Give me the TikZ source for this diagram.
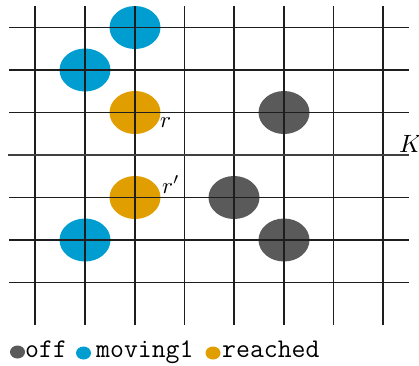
\documentclass[tikz,border=0pt]{standalone}
\usepackage{fontspec}
\usetikzlibrary{shapes.geometric}
\definecolor{cblue}{RGB}{0,158,208}
\definecolor{corange}{RGB}{224,158,0}
\definecolor{cgray}{RGB}{90,90,90}
\definecolor{cgrid}{RGB}{30,30,30}
\begin{document}
\begin{tikzpicture}[x=1pt,y=-1pt,
  agent/.style={ellipse,minimum width=51pt,minimum height=43pt,inner sep=0pt,draw=none},
  dot/.style={ellipse,minimum width=15pt,minimum height=13pt,inner sep=0pt,draw=none},
  gridline/.style={draw=cgrid,line width=1.3pt},
  legtext/.style={anchor=base west,inner sep=0pt,font=\fontsize{27}{30}\selectfont\ttfamily},
  lbl/.style={inner sep=0pt,anchor=base west}]
\useasboundingbox (0,0) rectangle (419,365);
% agents
\node[agent,fill=cblue] (b1) at (135,27.5) {};
\node[agent,fill=cblue] (b2) at (85,70) {};
\node[agent,fill=cblue] (b3) at (85,240) {};
\node[agent,fill=corange] (o1) at (135,112.5) {};
\node[agent,fill=corange] (o2) at (135,197.5) {};
\node[agent,fill=cgray] (g1) at (284,112.5) {};
\node[agent,fill=cgray] (g2) at (234,197.5) {};
\node[agent,fill=cgray] (g3) at (284,240) {};
% grid
\foreach \x in {35,85,135,184.5,234,284,333.5,383}
  \draw[gridline] (\x,6) -- (\x,325);
\foreach \y in {27.5,70,112.5,197.5,240,282.5}
  \draw[gridline] (9,\y) -- (409,\y);
\draw[draw=cgrid!85,line width=2.6pt] (8,155) -- (409,155);
% labels
\node[lbl] (lr) at (160,127.5) {\scalebox{2.3}{$r$}};
\node[lbl] (lrp) at (162,193) {\scalebox{2.3}{$r'$}};
\node[lbl] (lK) at (399,152.5) {\scalebox{2.5}{$K$}};
% legend
\node[dot,fill=cgray] (d1) at (17.5,352) {};
\node[legtext] (t1) at (25,357) {off};
\node[dot,fill=cblue] (d2) at (83.5,353) {};
\node[legtext] (t2) at (96,357) {moving1};
\node[dot,fill=corange] (d3) at (213,353) {};
\node[legtext] (t3) at (222,357) {reached};
\end{tikzpicture}
\end{document}
